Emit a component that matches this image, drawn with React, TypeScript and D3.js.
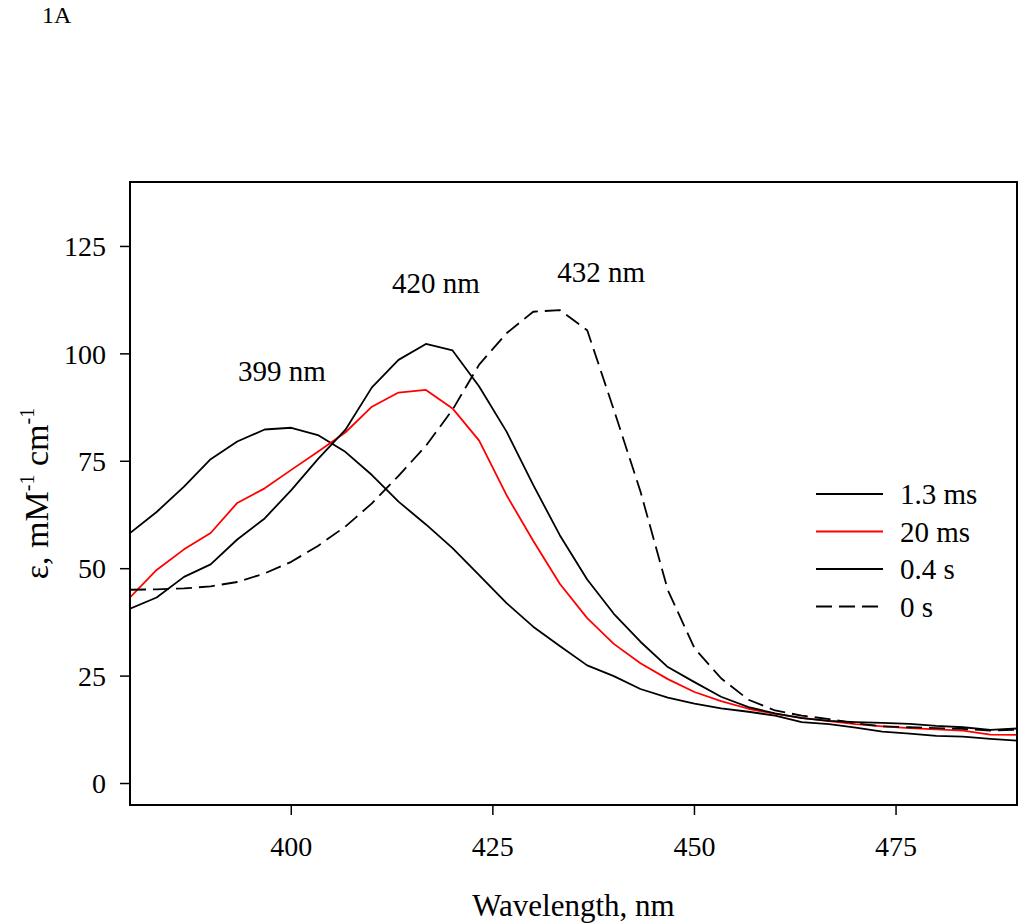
import React from 'react';
import * as d3 from 'd3';

// wavelengths (nm), sampled every ~3.3 nm
const wavelengths = [
  380, 383.3, 386.7, 390, 393.3, 396.7, 400, 403.3, 406.7, 410, 413.3, 416.7,
  420, 423.3, 426.7, 430, 433.3, 436.7, 440, 443.3, 446.7, 450, 453.3, 456.7,
  460, 463.3, 466.7, 470, 473.3, 476.7, 480, 483.3, 486.7, 490,
];

const ms13 = [
  58.3, 63.2, 69.1, 75.5, 79.6, 82.4, 82.8, 81.1, 77.2, 71.8, 65.6, 60.3,
  54.8, 48.5, 42.0, 36.5, 32.0, 27.5, 25.0, 22.0, 20.0, 18.6, 17.5, 16.7,
  15.8, 14.3, 13.8, 13.0, 12.1, 11.6, 11.1, 10.9, 10.4, 10.0,
];
const ms20 = [
  43.3, 49.7, 54.5, 58.3, 65.3, 68.7, 73.0, 77.2, 81.7, 87.7, 91.0, 91.6,
  87.3, 79.8, 67.1, 56.5, 46.5, 38.5, 32.5, 28.0, 24.3, 21.3, 19.2, 17.4,
  16.2, 15.3, 14.5, 13.8, 13.3, 12.9, 12.6, 12.3, 11.4, 11.3,
];
const s04 = [
  40.7, 43.3, 48.1, 51.0, 56.8, 61.7, 68.3, 75.5, 82.3, 92.2, 98.6, 102.3,
  100.8, 92.4, 81.9, 69.5, 57.8, 47.5, 39.5, 33.0, 27.1, 23.6, 20.2, 17.8,
  16.3, 15.2, 14.6, 14.3, 14.1, 13.9, 13.4, 13.1, 12.5, 12.8,
];
const s0 = [
  45.1, 45.2, 45.4, 45.9, 46.9, 48.9, 51.6, 55.3, 59.8, 65.2, 71.6, 78.6,
  87.0, 97.5, 104.8, 109.8, 110.2, 105.5, 87.0, 68.0, 45.0, 31.5, 24.5, 19.5,
  17.0, 15.8, 15.0, 14.0, 13.3, 13.1, 12.9, 12.7, 12.3, 12.5,
];

const seriesNames = ['1.3 ms', '20 ms', '0.4 s', '0 s'];
const seriesValues = [ms13, ms20, s04, s0];
const seriesColors = ['#000', '#ff0000', '#000', '#000'];
const seriesDash = [null, null, null, '16,7'];

const xTicks = [400, 425, 450, 475];
const yTicks = [0, 25, 50, 75, 100, 125];

const peakLabels = ['399 nm', '420 nm', '432 nm'];
const peakAt = [
  { wl: 393.4, v: 93.7 },
  { wl: 412.5, v: 114.2 },
  { wl: 433.0, v: 116.7 },
];

const FONT = '"Liberation Serif", "Times New Roman", serif';

export default function App() {
  const left = 130, right = 1017, top = 182, bottom = 805;
  const x = d3.scaleLinear().domain([380, 490]).range([left, right]);
  const y = d3.scaleLinear().domain([-5, 140]).range([bottom, top]);

  const line = d3.line<number>()
    .x((_, i) => x(wavelengths[i]))
    .y(d => y(d));

  const legendY = [494, 531.5, 569, 606.5];

  return (
    <svg width={1020} height={923} style={{ position: 'absolute', left: 0, top: 0, background: '#fff' }}
      fontFamily={FONT}>
      <text x={42} y={23} fontSize={24}>1A</text>

      <defs>
        <clipPath id="plot">
          <rect x={left} y={top} width={right - left} height={bottom - top} />
        </clipPath>
      </defs>

      <g clipPath="url(#plot)">
        {seriesValues.map((vals, i) => (
          <path key={seriesNames[i]} d={line(vals) || ''} fill="none"
            stroke={seriesColors[i]} strokeWidth={1.8}
            strokeDasharray={seriesDash[i] || undefined} strokeLinejoin="round" />
        ))}
      </g>

      <rect x={left} y={top} width={right - left} height={bottom - top}
        fill="none" stroke="#000" strokeWidth={2} />

      {yTicks.map(t => (
        <g key={t}>
          <line x1={left - 10} x2={left} y1={y(t)} y2={y(t)} stroke="#000" strokeWidth={1.5} />
          <text x={106} y={y(t)} dy="0.35em" textAnchor="end" fontSize={28}>{t}</text>
        </g>
      ))}
      {xTicks.map(t => (
        <g key={t}>
          <line x1={x(t)} x2={x(t)} y1={bottom} y2={bottom + 10} stroke="#000" strokeWidth={1.5} />
          <text x={x(t)} y={856} textAnchor="middle" fontSize={28}>{t}</text>
        </g>
      ))}

      <text x={(left + right) / 2} y={916} textAnchor="middle" fontSize={31}>Wavelength, nm</text>
      <text transform={`translate(48,${(top + bottom) / 2}) rotate(-90)`} textAnchor="middle" fontSize={34}>
        ε, mM<tspan fontSize={20} dy={-14}>-1</tspan><tspan dy={14}> cm</tspan><tspan fontSize={20} dy={-14}>-1</tspan>
      </text>

      {peakLabels.map((s, i) => (
        <text key={s} x={x(peakAt[i].wl)} y={y(peakAt[i].v)} fontSize={29}>{s}</text>
      ))}

      {seriesNames.map((s, i) => (
        <g key={s}>
          <line x1={816} x2={883} y1={legendY[i]} y2={legendY[i]} stroke={seriesColors[i]}
            strokeWidth={1.8} strokeDasharray={seriesDash[i] || undefined} />
          <text x={900} y={legendY[i] + 10} fontSize={29}>{s}</text>
        </g>
      ))}
    </svg>
  );
}
